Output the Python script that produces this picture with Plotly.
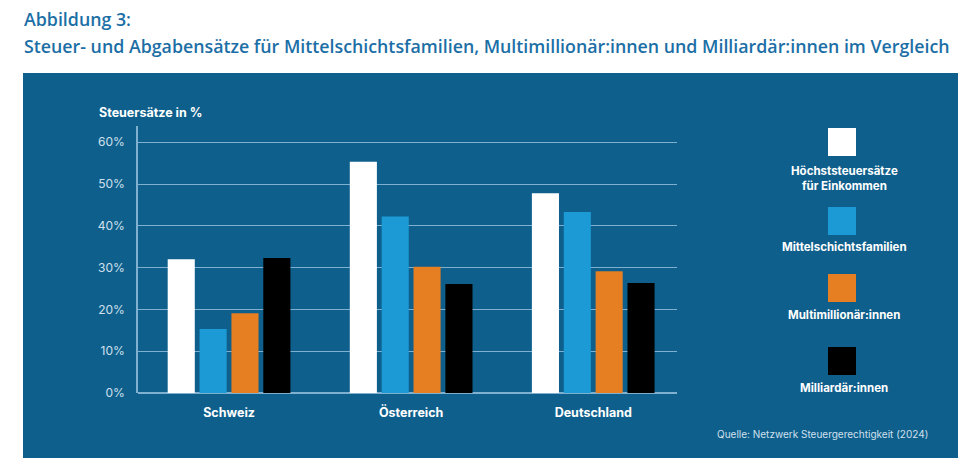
import plotly.graph_objects as go

W, H = 975, 469

countries = ["Schweiz", "Österreich", "Deutschland"]
series_names = ["Höchststeuersätze<br>für Einkommen", "Mittelschichtsfamilien",
                "Multimillionär:innen", "Milliardär:innen"]
hoechst = [32.0, 55.3, 47.8]
mittel = [15.3, 42.2, 43.3]
multi = [19.1, 30.2, 29.1]
milliard = [32.3, 26.1, 26.3]
values = [hoechst, mittel, multi, milliard]
colors = ["#ffffff", "#1b9ad6", "#e67e22", "#000000"]
y_ticks = [0, 10, 20, 30, 40, 50, 60]
y_tick_labels = ["0%", "10%", "20%", "30%", "40%", "50%", "60%"]

PANEL = "#0f5f8c"
GRID = "#7fb0d0"
TITLE_C = "#1c6fa6"

def px(x):
    return x / W

def py(y):
    return 1 - y / H

fig = go.Figure()
for name, vals, c in zip(series_names, values, colors):
    fig.add_trace(go.Bar(x=countries, y=vals, name=name, marker=dict(color=c, line=dict(width=0)),
                         showlegend=False, hoverinfo="skip"))

shapes = [dict(type="rect", xref="paper", yref="paper", x0=px(23), x1=px(958), y0=py(458), y1=py(73),
               fillcolor=PANEL, line=dict(width=0), layer="below")]
annotations = [
    dict(text="Abbildung 3:", x=px(22), y=py(19), xref="paper", yref="paper", xanchor="left",
         yanchor="middle", showarrow=False,
         font=dict(family="Open Sans", size=17.8, color=TITLE_C, weight=600)),
    dict(text="Steuer- und Abgabensätze für Mittelschichtsfamilien, Multimillionär:innen und Milliardär:innen im Vergleich",
         x=px(22), y=py(46), xref="paper", yref="paper", xanchor="left", yanchor="middle", showarrow=False,
         font=dict(family="Open Sans", size=17.8, color=TITLE_C, weight=600)),
    dict(text="<b>Steuersätze in %</b>", x=px(97), y=py(112), xref="paper", yref="paper", xanchor="left",
         yanchor="middle", showarrow=False, font=dict(family="Inter", size=12.5, color="#ffffff")),
    dict(text="Quelle: Netzwerk Steuergerechtigkeit (2024)", x=px(930), y=py(434), xref="paper", yref="paper",
         xanchor="right", yanchor="middle", showarrow=False, font=dict(family="Inter", size=10, color="#cfe0ec")),
]

# custom legend: square above centred label
sq_cx = 842
lab_cx = 844
sq_tops = [128, 207, 274, 347]
lab_y = [178, 247, 315, 388]
for c, name, t, ly in zip(colors, series_names, sq_tops, lab_y):
    shapes.append(dict(type="rect", xref="paper", yref="paper", x0=px(sq_cx - 14), x1=px(sq_cx + 14),
                       y0=py(t + 28), y1=py(t), fillcolor=c, line=dict(width=0)))
    annotations.append(dict(text="<b>" + name + "</b>", x=px(lab_cx), y=py(ly), xref="paper", yref="paper",
                            xanchor="center", yanchor="middle", showarrow=False, align="center",
                            font=dict(family="Inter", size=11.5, color="#ffffff")))

fig.update_layout(
    width=W, height=H,
    margin=dict(l=0, r=0, t=0, b=0, autoexpand=False),
    paper_bgcolor="#ffffff", plot_bgcolor="rgba(0,0,0,0)",
    barmode="group", bargap=0.30, bargroupgap=0.15,
    shapes=shapes, annotations=annotations,
    hovermode=False,
    xaxis=dict(domain=[px(138), px(677)], range=[-0.5, 2.46], showgrid=False, zeroline=False,
               showline=False, ticks="", ticklabelstandoff=10, automargin=False, fixedrange=True,
               tickfont=dict(family="Inter", size=12.5, color="#ffffff", weight="bold")),
    yaxis=dict(domain=[py(393), py(125.5)], range=[0, 64], tickvals=y_ticks, ticktext=y_tick_labels,
               showgrid=True, gridcolor=GRID, gridwidth=1, zeroline=True, zerolinecolor=GRID,
               zerolinewidth=1.5, showline=True, linecolor=GRID, linewidth=1.5, ticks="",
               ticklabelstandoff=9, automargin=False, fixedrange=True,
               tickfont=dict(family="Inter", size=12, color="#cfe0ec")),
    font=dict(family="Inter"),
)

fig.write_html("out.html", config={"displayModeBar": False},
               post_script="document.body.style.margin='0';document.body.style.overflow='hidden';")
